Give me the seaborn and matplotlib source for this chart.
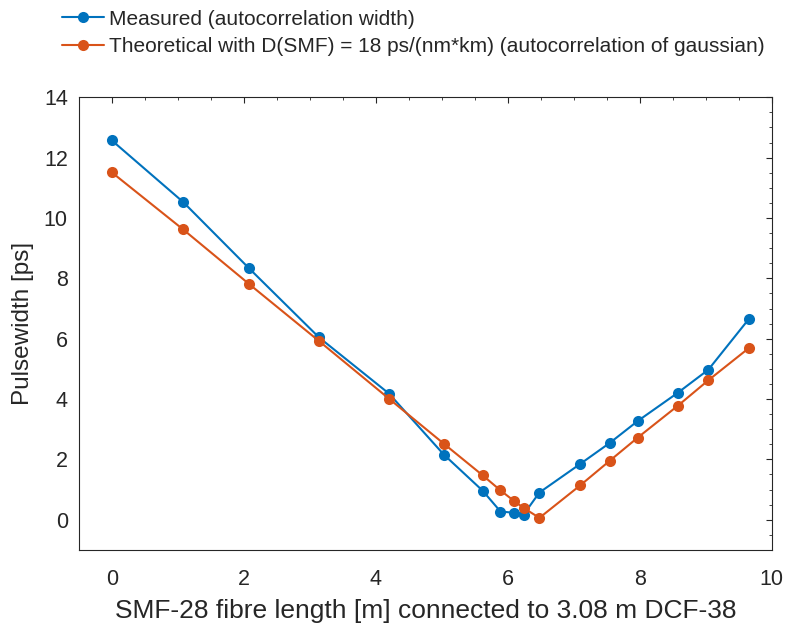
import numpy as np
import pandas as pd
import matplotlib
matplotlib.use("Agg")
import matplotlib.pyplot as plt
import seaborn as sns
from matplotlib.ticker import MultipleLocator

sns.set_style("white")
plt.rcParams['font.family'] = ['Liberation Sans', 'DejaVu Sans']

# dados
comprimento = [0, 1.08, 2.08, 3.14, 4.20, 5.03, 5.62, 5.89, 6.09, 6.24, 6.48,
               7.10, 7.55, 7.97, 8.58, 9.04, 9.65]
medido = [12.57, 10.53, 8.33, 6.04, 4.18, 2.16, 0.96, 0.27, 0.23, 0.17, 0.90,
          1.85, 2.55, 3.27, 4.21, 4.97, 6.64]
teorico = [11.51, 9.62, 7.81, 5.92, 4.01, 2.52, 1.47, 0.97, 0.63, 0.39, 0.06,
           1.14, 1.96, 2.72, 3.78, 4.62, 5.68]
nomes = ['Measured (autocorrelation width)',
         'Theoretical with D(SMF) = 18 ps/(nm*km) (autocorrelation of gaussian)']
cores = ['#0072BD', '#D95319']

df = pd.DataFrame({
    'x': comprimento * 2,
    'y': medido + teorico,
    'serie': [nomes[0]] * len(medido) + [nomes[1]] * len(teorico),
})

fig = plt.figure(figsize=(7.89, 6.32), dpi=100)
ax = fig.add_axes([0.100, 0.130, 0.878, 0.716])

sns.lineplot(data=df, x='x', y='y', hue='serie', palette=cores, marker='o',
             markersize=8, markeredgewidth=0, linewidth=1.5, sort=False,
             estimator=None, ax=ax)

ax.set_xlim(-0.5, 10)
ax.set_ylim(-1, 14)
ax.xaxis.set_major_locator(MultipleLocator(2))
ax.xaxis.set_minor_locator(MultipleLocator(0.5))
ax.yaxis.set_major_locator(MultipleLocator(2))
ax.yaxis.set_minor_locator(MultipleLocator(0.5))
ax.tick_params(which='both', direction='in', top=True, right=True,
               color='#262626', labelcolor='#262626')
ax.tick_params(which='major', length=4, labelsize=15.5)
ax.tick_params(which='minor', length=2)
ax.tick_params(axis='x', which='major', pad=14)
ax.tick_params(axis='y', which='major', pad=8)
for s in ax.spines.values():
    s.set_color('#262626')
    s.set_linewidth(0.8)

ax.set_xlabel('SMF-28 fibre length [m] connected to 3.08 m DCF-38',
              fontsize=19, color='#262626', labelpad=6)
ax.set_ylabel('Pulsewidth [ps]', fontsize=17.5, color='#262626', labelpad=7)

ax.legend_.remove()
h, l = ax.get_legend_handles_labels()
fig.legend(h, l, loc='upper left', bbox_to_anchor=(0.068, 0.998), frameon=False,
           fontsize=15, handlelength=2.0, handletextpad=0.25,
           labelspacing=0.42, borderaxespad=0.0)

plt.savefig('out.png', dpi=100)
